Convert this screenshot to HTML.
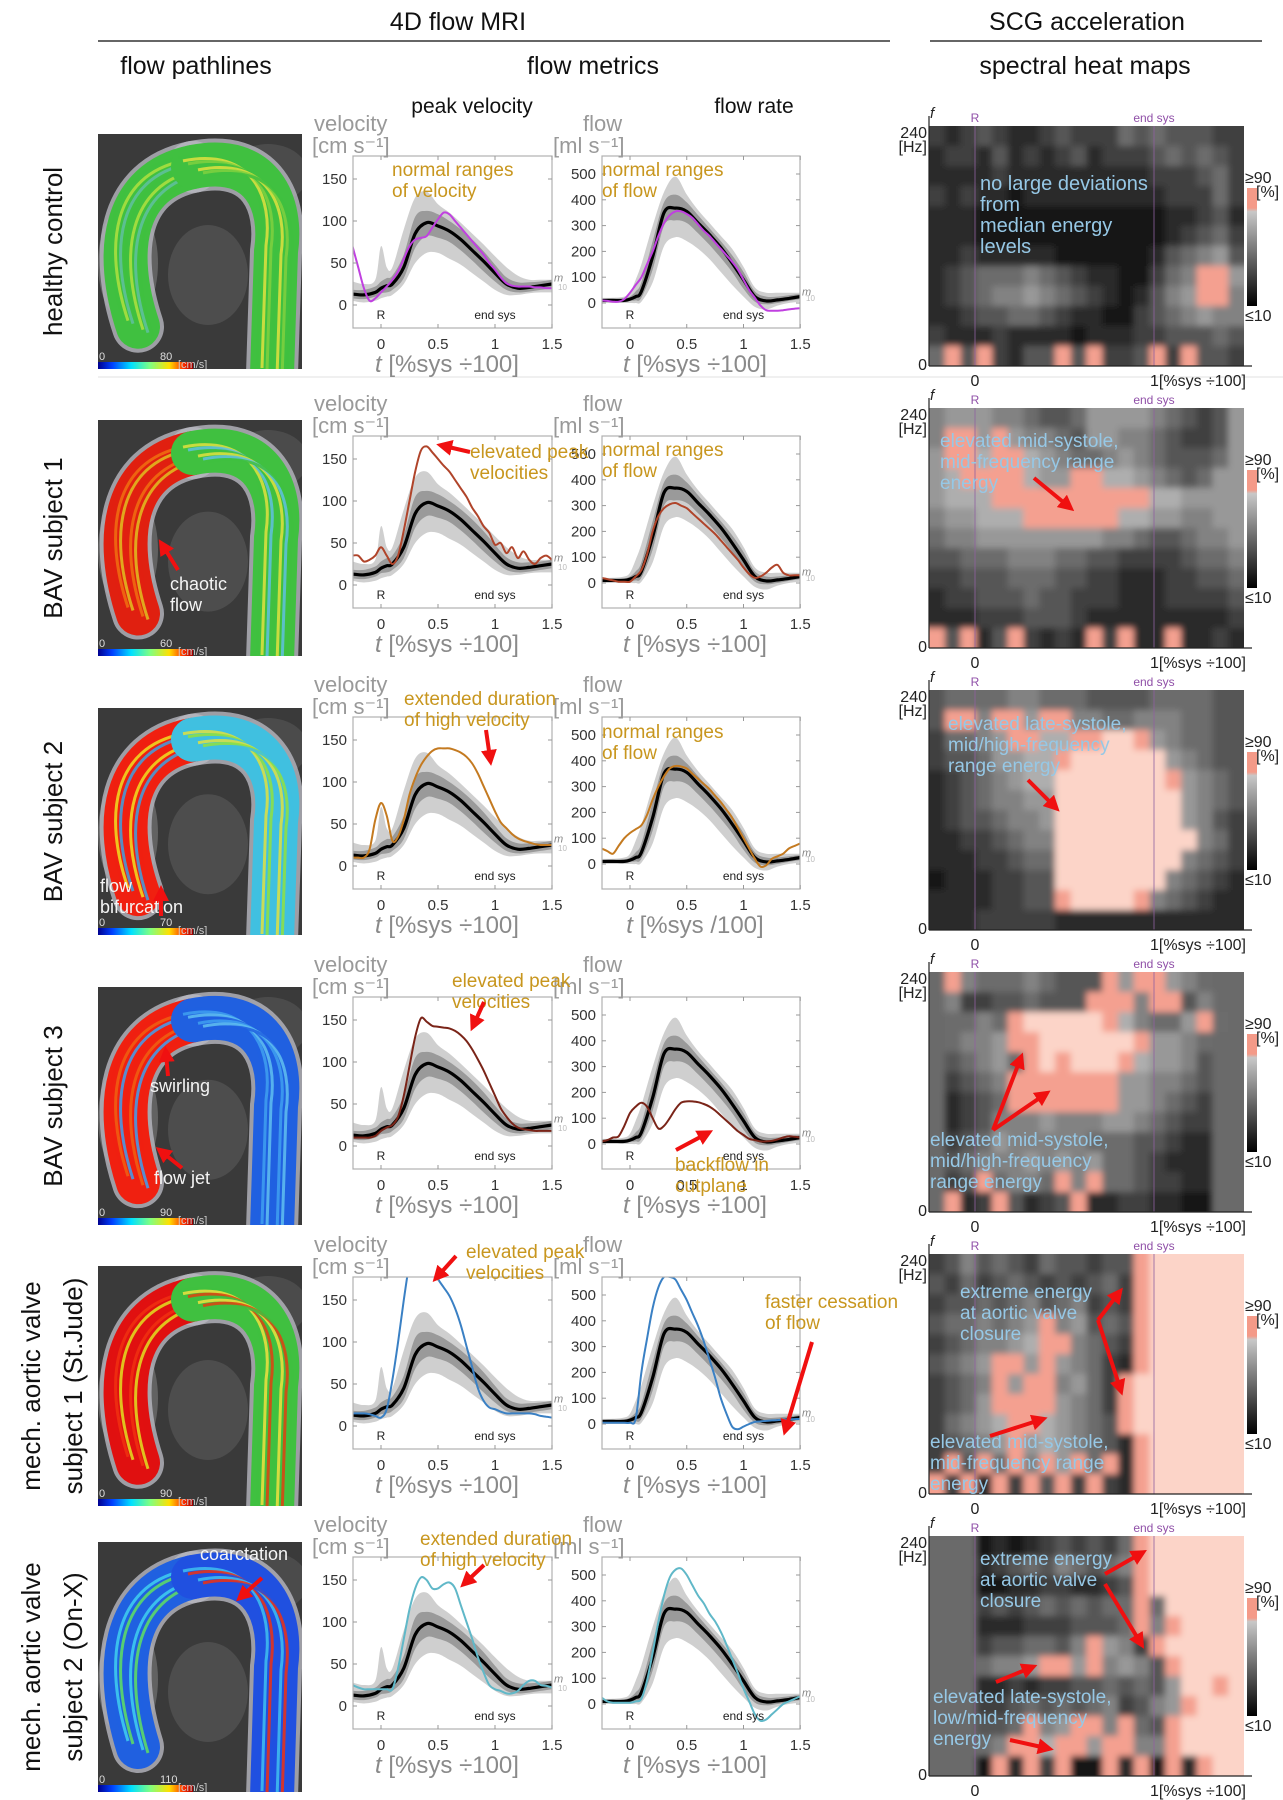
<!DOCTYPE html>
<html><head><meta charset="utf-8">
<style>
html,body{margin:0;padding:0;background:#fff;}
svg{display:block;font-family:"Liberation Sans",Arial,sans-serif;}
</style></head>
<body>
<svg id="fig" width="1283" height="1800" viewBox="0 0 1283 1800" xmlns="http://www.w3.org/2000/svg">
<defs>
<linearGradient id="jet" x1="0" x2="1" y1="0" y2="0">
<stop offset="0" stop-color="#00008f"/><stop offset="0.15" stop-color="#0040ff"/><stop offset="0.35" stop-color="#00e0ff"/><stop offset="0.55" stop-color="#80ff80"/><stop offset="0.75" stop-color="#ffe000"/><stop offset="0.9" stop-color="#ff3000"/><stop offset="1" stop-color="#a00000"/>
</linearGradient>
<linearGradient id="cbar" x1="0" x2="0" y1="0" y2="1">
<stop offset="0" stop-color="#f49a88"/><stop offset="0.17" stop-color="#f49a88"/><stop offset="0.2" stop-color="#c8c8c8"/><stop offset="1" stop-color="#000"/>
</linearGradient>
<filter id="soft" x="0" y="0" width="1" height="1"><feGaussianBlur stdDeviation="3.2"/></filter>
<marker id="ah" markerWidth="4" markerHeight="4" refX="2" refY="2" orient="auto" markerUnits="strokeWidth"><path d="M0,0 L4,2 L0,4 Z" fill="#f01010"/></marker>
</defs>

<g>
<text x="458" y="30" font-size="25" text-anchor="middle" fill="#111">4D flow MRI</text>
<line x1="98" y1="41" x2="890" y2="41" stroke="#333" stroke-width="1.5"/>
<text x="1087" y="30" font-size="25" text-anchor="middle" fill="#111">SCG acceleration</text>
<line x1="930" y1="41" x2="1262" y2="41" stroke="#333" stroke-width="1.5"/>
<text x="196" y="74" font-size="25" text-anchor="middle" fill="#111">flow pathlines</text>
<text x="593" y="74" font-size="25" text-anchor="middle" fill="#111">flow metrics</text>
<text x="1085" y="74" font-size="25" text-anchor="middle" fill="#111">spectral heat maps</text>
<text x="472" y="113" font-size="21" text-anchor="middle" fill="#111">peak velocity</text>
<text x="754" y="113" font-size="21" text-anchor="middle" fill="#111">flow rate</text>
</g>
<line x1="98" y1="377" x2="1283" y2="377" stroke="#e2e2e2" stroke-width="1"/>
<g id="content"></g>
</svg>

<script>
// ---------- data ----------
const bandT = [-0.25,-0.15,-0.05,0,0.05,0.1,0.2,0.3,0.4,0.5,0.6,0.7,0.8,0.9,1.0,1.1,1.2,1.3,1.4,1.5];
const velMedian  = [13,12,15,20,23,25,45,85,98,94,88,78,65,52,38,25,20,21,23,25];
const velOuterHi = [28,25,30,70,45,45,90,128,135,120,110,98,85,72,58,45,35,30,30,30];
const velOuterLo = [5,3,5,8,10,12,25,50,62,62,55,48,38,28,18,12,12,14,15,15];
const velInnerHi = [18,18,22,28,32,35,60,105,112,108,100,90,78,64,48,33,27,27,28,30];
const velInnerLo = [8,7,10,14,15,18,32,68,82,80,75,65,53,40,28,18,15,16,18,20];
const flowMedian  = [10,10,10,15,25,45,180,350,368,355,310,265,215,155,90,25,8,12,18,25];
const flowOuterHi = [20,20,25,40,90,150,300,430,490,420,360,310,260,210,140,60,40,40,40,40];
const flowOuterLo = [0,0,0,0,0,5,80,220,255,240,210,170,120,70,25,-15,-25,-10,0,5];
const flowInnerHi = [15,15,18,25,45,80,240,390,420,390,340,290,240,185,120,45,25,25,30,35];
const flowInnerLo = [5,5,5,8,10,20,130,300,320,310,270,225,175,120,55,5,-5,0,8,15];

const subjT = [-0.25,-0.2,-0.15,-0.1,-0.05,0,0.05,0.1,0.15,0.2,0.25,0.3,0.35,0.4,0.45,0.5,0.55,0.6,0.65,0.7,0.75,0.8,0.85,0.9,0.95,1.0,1.05,1.1,1.15,1.2,1.25,1.3,1.35,1.4,1.45,1.5];
const vel1 = [70,45,20,5,8,15,22,30,40,55,70,78,80,82,92,102,110,108,100,92,84,76,68,60,50,42,33,26,23,22,22,22,21,21,20,20];
const flow1 = [10,8,5,5,15,40,70,100,150,200,260,310,340,355,355,345,330,305,280,260,235,210,185,160,130,90,50,20,-10,-28,-30,-30,-28,-25,-22,-20];
const vel2 = [35,35,28,30,35,45,35,25,35,65,100,135,160,165,158,150,142,135,125,115,105,92,82,70,62,48,50,38,45,32,40,30,25,32,35,30];
const flow2 = [20,15,10,5,5,5,25,50,110,200,260,290,305,310,300,290,270,250,230,210,190,165,140,115,90,60,35,20,25,40,60,70,40,30,30,30];
const vel3 = [10,10,10,20,55,75,60,30,35,55,85,105,120,130,137,140,140,140,138,135,130,122,110,95,80,65,52,45,38,33,30,28,26,25,25,25];
const flow3 = [60,50,40,70,100,120,135,150,190,250,300,340,370,380,378,370,350,330,310,290,265,240,210,180,140,100,60,20,-10,-5,20,30,40,60,70,80];
const vel4 = [10,10,10,10,12,18,22,25,35,60,95,130,152,148,143,142,141,140,137,132,125,115,103,90,75,60,45,35,27,22,20,19,18,18,18,18];
const flow4 = [10,15,25,30,70,120,145,160,145,100,60,70,100,135,160,165,165,162,155,145,130,110,90,70,50,35,20,15,10,10,12,18,25,30,28,25];
const vel5 = [15,15,15,14,12,10,20,55,100,150,195,230,230,210,190,175,165,155,140,120,95,70,45,30,22,20,17,15,15,15,15,15,14,12,11,10];
const flow5 = [5,5,5,5,5,5,20,200,330,450,530,570,570,560,520,480,430,380,320,250,180,100,40,-10,-20,-10,0,8,10,12,14,15,17,18,19,20];
const vel6 = [25,22,20,20,20,20,20,20,45,80,115,140,153,150,140,140,145,147,140,120,100,80,58,40,25,20,18,15,15,18,25,30,30,25,24,22];
const flow6 = [25,10,5,5,5,5,10,20,90,200,320,420,490,520,525,500,460,420,390,350,320,280,230,175,120,60,10,-40,-65,-60,-40,-20,0,10,20,30];
const subjVel = [vel1,vel2,vel3,vel4,vel5,vel6];
const subjFlow = [flow1,flow2,flow3,flow4,flow5,flow6];
const subjColor = ["#c040e0","#b0442a","#c47a20","#7a2418","#3a80c4","#60b8c8"];

const velTicks = [0,50,100,150];
const flowTicks = [0,100,200,300,400,500];
const xTicks = [0,0.5,1,1.5];
const xTickLabels = ["0","0.5","1","1.5"];

const heat1 = [
"21232112322243433322","12213121231222343432","11112111111111222342","21211011111111122242",
"11100000000000011231","11100000000000012342","11211111000000134563","12344454321100245pp6",
"12345565432101356pp5","11233443211002345655","21112111101112233343","4p3p2133p3p223p2p332"];
const heat2 = [
"56665543346666543236","5pp6p655436655432236","6pp7pp76544565433346","67pppp766pp776543466",
"6777pppppppppp776666","566777pppppp77665566","45566666666554334556","33444555443322223445",
"22333444332211122334","12233343322211122223","11122233321111111112","p3p13p2121p2p11p1121"];
const heat3 = [
"34444554443333444433","3pp5pp6pp55445554433","24456pp77ppPPp654433","23346677pPPPPPP65433",
"12345677PPPPPPPp6543","12345566PPPPPPPP6543","12334556PPPPPPPP6532","11223455PPPPPPPPP542",
"11122344PPPPPPPP5432","01112233PPPPPPP54321","11112233pPPPPp543211","11122222111111111111"];
const heat4 = [
"gp544454333p6pp654gg","g522334333ppp5pp35gg","g4454pPPPPPp75446p4gg","g4556ppPPPPPPp6654gg",
"g34564pPpPPPp76653gg","g2345ppppppp665543gg","g1234ppppppp665432gg","g1235556555665432 gg",
"g2346555554443321 gg","g3455565656443211 gg","g23p4554p5p4432 1 gg","gp12p3123p1122110 gg"];
const heat5 = [
"2353432433233pPPPPPP","3242343232342pPPPPPP","2334345345232pPPPPPP","3445456p56343pPPPPPP",
"2345567pp5432pPPPPPP","3456pp6p65421pPPPPPP","2345p6pp5642pPPPPPPP","2346pppp6542pPPPPPPP",
"24567pp76543pPPPPPPP","23456p6765431pPPPPPP","2p3p4p5p6p4p1pPPPPPP","p2p1p2p3p2p21pPPPPPP"];
const heat6 = [
"ggg0101232324pPPPPPP","ggg1234354345pPPPPPP","ggg0011221123pPPPPPP","ggg2323434344p4PPPPP",
"ggg1112223334p5pPPPP","ggg2334435p652pPPPPP","ggg4556pp6p5653pPPPP","ggg1121223343436PPpP",
"ggg2234343452356pPPP","ggg334p56pp5p43pPPPP","ggg45pp7pp6pp55pPPPP","ggg0p1p2p00p1p0p1pPP"];
const heatGrids = [heat1,heat2,heat3,heat4,heat5,heat6];

const rowLabels = [["healthy control"],["BAV subject 1"],["BAV subject 2"],["BAV subject 3"],["mech. aortic valve","subject 1 (St.Jude)"],["mech. aortic valve","subject 2 (On-X)"]];
const pathMax = ["80","60","70","90","90","110"];

// ---------- helpers ----------
const NS = "http://www.w3.org/2000/svg";
const root = document.getElementById("content");
function mk(tag, attrs, parent){
  const e = document.createElementNS(NS, tag);
  for (const k in attrs) e.setAttribute(k, attrs[k]);
  (parent||root).appendChild(e);
  return e;
}
function txt(parent, x, y, s, size, fill, anchor, extra){
  const t = mk("text", Object.assign({x:x, y:y, "font-size":size, fill:fill, "text-anchor":anchor||"start"}, extra||{}), parent);
  t.textContent = s;
  return t;
}
function smooth(pts){
  let d = "";
  for (let i=0;i<pts.length-1;i++){
    const p0 = pts[Math.max(0,i-1)], p1 = pts[i], p2 = pts[i+1], p3 = pts[Math.min(pts.length-1,i+2)];
    const c1x = p1[0]+(p2[0]-p0[0])/6, c1y = p1[1]+(p2[1]-p0[1])/6;
    const c2x = p2[0]-(p3[0]-p1[0])/6, c2y = p2[1]-(p3[1]-p1[1])/6;
    d += " C"+c1x.toFixed(1)+","+c1y.toFixed(1)+" "+c2x.toFixed(1)+","+c2y.toFixed(1)+" "+p2[0].toFixed(1)+","+p2[1].toFixed(1);
  }
  return d;
}
function arrow(parent, x1,y1,x2,y2){
  const a = mk("line",{x1:x1,y1:y1,x2:x2,y2:y2,stroke:"#f01010","stroke-width":4,"marker-end":"url(#ah)"},parent);
  
  
}

const chartOff = [0,280,561,841,1121,1401];
const heatOff = [0,282,564,846,1128,1410];
const pathTop = [134,420,708,987,1266,1542];
const pathH = [235,236,227,238,240,250];

// ---------- chart ----------
function chart(row, kind){
  const oy = chartOff[row];
  const isVel = kind==="vel";
  const L = isVel?353:602, R = isVel?552:800, T = 156+oy, B = 328+oy;
  const x0 = isVel?381:630, sx = isVel?114:113.5;
  const y0 = (isVel?305:303)+oy, sy = isVel?0.84:0.258;
  const X = t => x0 + t*sx, Y = v => y0 - v*sy;
  const g = mk("g",{});
  
  
  const cid = "clip"+kind+row;
  const cp = mk("clipPath",{id:cid},g); mk("rect",{x:L,y:T,width:R-L,height:B-T},cp);
  const plot = mk("g",{"clip-path":"url(#"+cid+")"},g);
  const bands = isVel?[[velOuterHi,velOuterLo,"#cfcfcf"],[velInnerHi,velInnerLo,"#9a9a9a"]]:[[flowOuterHi,flowOuterLo,"#cfcfcf"],[flowInnerHi,flowInnerLo,"#9a9a9a"]];
  bands.forEach((b,i)=>{
    const up = bandT.map((t,k)=>[X(t),Y(b[0][k])]);
    const lo = bandT.map((t,k)=>[X(t),Y(b[1][k])]).reverse();
    const p = mk("path",{d:"M"+up[0][0]+","+up[0][1]+smooth(up)+" L"+lo[0][0]+","+lo[0][1]+smooth(lo)+" Z",fill:b[2]},plot);
    
    
  });
  const med = isVel?velMedian:flowMedian;
  const mp = bandT.map((t,k)=>[X(t),Y(med[k])]);
  const m = mk("path",{d:"M"+mp[0][0]+","+mp[0][1]+smooth(mp),fill:"none",stroke:"#000","stroke-width":3.2},plot);
  
  
  const sv = isVel?subjVel[row]:subjFlow[row];
  const sp = subjT.map((t,k)=>[X(t),Y(sv[k])]);
  const s = mk("path",{d:"M"+sp[0][0]+","+sp[0][1]+smooth(sp),fill:"none",stroke:subjColor[row],"stroke-width":2},plot);
  
  
  const box = mk("rect",{x:L,y:T,width:R-L,height:B-T,fill:"none",stroke:"#b0b0b0","stroke-width":1.2},g);
  
  
  (isVel?velTicks:flowTicks).forEach(v=>{
    mk("line",{x1:L,x2:L+4,y1:Y(v),y2:Y(v),stroke:"#999"},g);
    mk("line",{x1:R-4,x2:R,y1:Y(v),y2:Y(v),stroke:"#999"},g);
    const tl = txt(g, L-6, Y(v)+5, String(v), 15, "#333", "end");
    
    
  });
  xTicks.forEach((t,i)=>{
    mk("line",{x1:X(t),x2:X(t),y1:B,y2:B-4,stroke:"#999"},g);
    mk("line",{x1:X(t),x2:X(t),y1:T,y2:T+4,stroke:"#999"},g);
    const tl = txt(g, X(t), B+21, xTickLabels[i], 15, "#333", "middle");
    
    
  });
  txt(g, X(0), B-9, "R", 12, "#222", "middle");
  txt(g, X(1), B-9, "end sys", 12, "#222", "middle");
  txt(g, R+2, Y(isVel?28:30), "m", 11, "#888", "start", {"font-style":"italic"});
  txt(g, R+6, Y(isVel?18:0)+ (isVel?0:-2), "10", 8, "#bbb", "start");
  const yt1 = txt(g, isVel?314:583, 131+oy, isVel?"velocity":"flow", 22, "#999");
  
  
  const yt2 = txt(g, isVel?312:553, 153+oy, isVel?"[cm s⁻¹]":"[ml s⁻¹]", 22, "#999");
  
  
  const xt = mk("text",{x:isVel?447:695,y:B+44,"font-size":24,fill:"#8a8a8a","text-anchor":"middle"},g);
  
  
  const ts = mk("tspan",{"font-style":"italic"},xt); ts.textContent="t";
  const ts2 = mk("tspan",{},xt); ts2.textContent = (row===2 && !isVel) ? " [%sys /100]" : " [%sys ÷100]";
}

// ---------- heat map ----------
function heat(row){
  const oy = heatOff[row];
  const L=929, R=1244, T=126+oy, B=366+oy;
  const grid = heatGrids[row];
  const g = mk("g",{});
  
  
  const cid = "hclip"+row;
  const cp = mk("clipPath",{id:cid},g); mk("rect",{x:L,y:T,width:R-L,height:B-T},cp);
  const cg = mk("g",{"clip-path":"url(#"+cid+")"},g);
  const inner = mk("g",{filter:"url(#soft)"},cg);
  mk("rect",{x:L-10,y:T-10,width:R-L+20,height:B-T+20,fill:"#333"},inner);
  const nr = grid.length, nc = 20, cw = (R-L)/nc, ch = (B-T)/nr;
  for (let r=0;r<nr;r++){
    for (let c=0;c<nc;c++){
      let v = grid[r][c]; if (v===undefined||v===" ") v = grid[r][Math.max(0,c-1)]||"2"; if (v===" ") v="2";
      let fill;
      if (v==="p") fill="#f4a090"; else if (v==="P") fill="#fcd4c8"; else if (v==="g") fill="#6a6a6a";
      else { const k=20+parseInt(v,10)*22; fill="rgb("+k+","+k+","+k+")"; }
      const ext = (c===0?-8:0), extR = (c===nc-1?8:0), extT=(r===0?-8:0), extB=(r===nr-1?8:0);
      const cell = mk("rect",{x:(L+c*cw+ext).toFixed(2),y:(T+r*ch+extT).toFixed(2),width:(cw+0.6-ext+extR).toFixed(2),height:(ch+0.6-extT+extB).toFixed(2),fill:fill},inner);
      
      
    }
  }
  const x0=975, x1=1154;
  mk("line",{x1:x0,x2:x0,y1:T,y2:B,stroke:"#9060a0","stroke-width":1,opacity:0.8},g);
  mk("line",{x1:x1,x2:x1,y1:T,y2:B,stroke:"#9060a0","stroke-width":1,opacity:0.8},g);
  mk("line",{x1:L,x2:L,y1:T-10,y2:B,stroke:"#222","stroke-width":1.2},g);
  mk("line",{x1:L,x2:R+8,y1:B,y2:B,stroke:"#222","stroke-width":1.2},g);
  txt(g, x0, T-4, "R", 12, "#9050a8", "middle");
  txt(g, x1, T-4, "end sys", 12, "#9050a8", "middle");
  txt(g, L+1, T-8, "f", 15, "#222", "start", {"font-style":"italic"});
  txt(g, L-2, T+12, "240", 16, "#222", "end");
  txt(g, L-2, T+26, "[Hz]", 16, "#222", "end");
  txt(g, L-2, B+4, "0", 16, "#222", "end");
  txt(g, x0, B+20, "0", 16, "#222", "middle");
  txt(g, x1-4, B+20, "1[%sys ÷100]", 16, "#222", "start");
  const cb = mk("rect",{x:1247,y:T+62,width:10,height:118,fill:"url(#cbar)"},g);
  
  
  txt(g, 1245, T+57, "≥90", 16, "#222");
  txt(g, 1256, T+71, "[%]", 16, "#222");
  txt(g, 1245, T+195, "≤10", 16, "#222");
}

// ---------- pathline illustration ----------
const pathColorsA = [["#40c040","#b0e040","#60c0a0"],["#e02010","#f07010","#e0c020"],["#f02010","#f0e020","#40a0e0"],["#f02010","#f06010","#40a0f0"],["#e01010","#f03010","#e0e020"],["#2060e0","#40d0f0","#60e060"]];
const pathColorsB = [["#40c040","#e0e040","#80d040"],["#40c040","#e0e040","#60c0e0"],["#40c0e0","#e0e040","#90e040"],["#2060e0","#40a0f0","#60c0f0"],["#40c040","#f0e040","#e04010"],["#2050e0","#40c0f0","#f03010"]];
function pathline(row){
  const x=98, y=pathTop[row], w=204, h=pathH[row];
  const g = mk("g",{});
  
  
  const cid="pclip"+row;
  const cp = mk("clipPath",{id:cid},g); mk("rect",{x:x,y:y,width:w,height:h},cp);
  const cg = mk("g",{"clip-path":"url(#"+cid+")"},g);
  mk("rect",{x:x,y:y,width:w,height:h,fill:"#3a3a3a"},cg);
  mk("ellipse",{cx:x+30,cy:y+h*0.55,rx:30,ry:60,fill:"#8a8a8a",opacity:0.5},cg);
  mk("ellipse",{cx:x+110,cy:y+h*0.6,rx:40,ry:50,fill:"#5a5a5a",opacity:0.6},cg);
  mk("ellipse",{cx:x+170,cy:y+40,rx:40,ry:30,fill:"#666",opacity:0.4},cg);
  const A = "M"+(x+40)+","+(y+h*0.82)+" C"+(x+15)+","+(y+h*0.5)+" "+(x+25)+","+(y+h*0.2)+" "+(x+95)+","+(y+h*0.14);
  const Bp = "M"+(x+95)+","+(y+h*0.14)+" C"+(x+165)+","+(y+h*0.08)+" "+(x+185)+","+(y+h*0.3)+" "+(x+178)+","+(y+h*0.5)+" L"+(x+174)+","+(y+h+5);
  [A,Bp].forEach((d)=>{
    mk("path",{d:d,fill:"none",stroke:"#b8b8c0","stroke-width":52,"stroke-linecap":"round",opacity:0.8},cg);
  });
  [A,Bp].forEach((d,i)=>{
    const cols = i===0?pathColorsA[row]:pathColorsB[row];
    mk("path",{d:d,fill:"none",stroke:cols[0],"stroke-width":44,"stroke-linecap":"round"},cg);
    for (let k=-3;k<=3;k++){
      mk("path",{d:d,fill:"none",stroke:cols[(k+6)%3],"stroke-width":3,transform:"translate("+(k*5)+","+(k*3)+")",opacity:0.85},cg);
    }
  });
  mk("rect",{x:x,y:y+h-7,width:95,height:7,fill:"url(#jet)"},cg);
  txt(cg, x+1, y+h-9, "0", 11, "#ddd");
  txt(cg, x+62, y+h-9, pathMax[row], 11, "#ddd");
  txt(cg, x+80, y+h-1, "[cm/s]", 11, "#ccc");
  const lines = rowLabels[row];
  const cy = y + h/2;
  lines.forEach((s,i)=>{
    const lx = lines.length===1 ? 62 : (40 + i*42);
    const t = txt(g, lx, cy, s, 26, "#111", "middle", {transform:"rotate(-90 "+lx+" "+cy+")"});
    
    
  });
}

for (let r=0;r<6;r++){ pathline(r); chart(r,"vel"); chart(r,"flow"); heat(r); }

// ---------- annotations ----------
const ann = mk("g",{});


const gold="#c8961e", blue="#96c8e6", white="#f4f4f4";
function lab(x,y,lines,col,size){
  lines.forEach((s,i)=>{
    const t = txt(ann, x, y+i*21, s, size||19, col);
    
    
  });
}
lab(392,176,["normal ranges","of velocity"],gold);
lab(602,176,["normal ranges","of flow"],gold);
lab(980,190,["no large deviations","from","median energy","levels"],blue,20);
lab(470,458,["elevated peak","     velocities"],gold); arrow(ann,470,452,444,446);
lab(602,456,["normal ranges","of flow"],gold);
lab(170,590,["chaotic","  flow"],white,18); arrow(ann,178,570,163,546);
lab(940,447,["elevated mid-systole,","mid-frequency range","energy"],blue);
arrow(ann,1034,478,1068,506);
lab(404,705,["extended duration","of high velocity"],gold); arrow(ann,486,730,490,758);
lab(602,738,["normal ranges","of flow"],gold);
lab(100,892,["flow","bifurcation"],white,18); arrow(ann,161,916,161,893);
lab(948,730,["elevated late-systole,","mid/high-frequency","range energy"],blue);
arrow(ann,1028,780,1054,806);
lab(452,987,["elevated peak","velocities"],gold); arrow(ann,484,1002,474,1024);
lab(675,1171,["backflow in","cutplane"],gold); arrow(ann,676,1150,706,1134);
lab(150,1092,["swirling"],white,18); arrow(ann,168,1076,166,1054);
lab(154,1184,["flow jet"],white,18); arrow(ann,182,1168,162,1152);
lab(930,1146,["elevated mid-systole,","mid/high-frequency","range energy"],blue);
arrow(ann,993,1130,1020,1060); arrow(ann,993,1130,1044,1095);
lab(466,1258,["elevated peak","velocities"],gold); arrow(ann,456,1256,438,1276);
lab(765,1308,["faster cessation","  of flow"],gold); arrow(ann,812,1342,786,1428);
lab(960,1298,["extreme energy","at aortic valve","closure"],blue);
arrow(ann,1098,1320,1118,1294); arrow(ann,1098,1320,1120,1388);
lab(930,1448,["elevated mid-systole,","mid-frequency range","energy"],blue);
arrow(ann,990,1436,1040,1420);
lab(420,1545,["extended duration","of high velocity"],gold); arrow(ann,484,1565,466,1582);
lab(200,1560,["coarctation"],white,18); arrow(ann,262,1578,242,1596);
lab(980,1565,["extreme energy","at aortic valve","closure"],blue);
arrow(ann,1105,1574,1140,1554); arrow(ann,1105,1584,1140,1642);
lab(933,1703,["elevated late-systole,","low/mid-frequency","energy"],blue);
arrow(ann,996,1682,1030,1668); arrow(ann,1010,1740,1046,1748);
</script>
</body></html>
